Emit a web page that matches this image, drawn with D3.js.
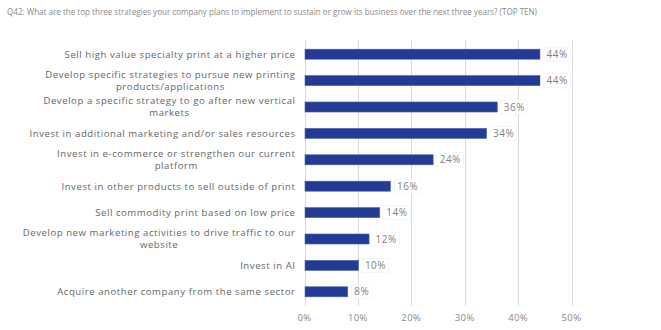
<!DOCTYPE html>
<html><head><meta charset="utf-8">
<script src="https://cdn.jsdelivr.net/npm/d3@7"></script>
<style>
html,body{margin:0;padding:0;background:#fff;}
svg{display:block;}
text{font-family:"Open Sans","DejaVu Sans",sans-serif;}
</style></head>
<body>
<svg id="chart" width="661" height="330"></svg>
<script>
const title = "Q42: What are the top three strategies your company plans to implement to sustain or grow its business over the next three years? (TOP TEN)";
const categories = [
  "Sell high value specialty print at a higher price",
  "Develop specific strategies to pursue new printing\nproducts/applications",
  "Develop a specific strategy to go after new vertical\nmarkets",
  "Invest in additional marketing and/or sales resources",
  "Invest in e-commerce or strengthen our current\nplatform",
  "Invest in other products to sell outside of print",
  "Sell commodity print based on low price",
  "Develop new marketing activities to drive traffic to our\nwebsite",
  "Invest in AI",
  "Acquire another company from the same sector"
];
const values = [44, 44, 36, 34, 24, 16, 14, 12, 10, 8];
const tickValues = [0, 10, 20, 30, 40, 50];

const svg = d3.select("#chart");
const W = 661, H = 330;
const margin = {left: 304.5, right: 89.5, top: 41, bottom: 25};

const x = d3.scaleLinear().domain([0, 50]).range([margin.left, W - margin.right]);
const y = d3.scaleBand().domain(d3.range(categories.length)).range([margin.top, H - margin.bottom]).paddingInner(0.62).paddingOuter(0.31);

// title
svg.append("text").attr("x", 7).attr("y", 14.5)
  .attr("font-size", 8.6).attr("fill", "#8a8a8a")
  .attr("textLength", 530).attr("lengthAdjust", "spacingAndGlyphs")
  .text(title);

// gridlines
svg.append("g").selectAll("line").data(tickValues).join("line")
  .attr("x1", d => Math.round(x(d)) + 0.5).attr("x2", d => Math.round(x(d)) + 0.5)
  .attr("y1", margin.top - 1).attr("y2", H - margin.bottom + 1)
  .attr("stroke", "#d9d9d9").attr("stroke-width", 1);

// tick labels
svg.append("g").selectAll("text").data(tickValues).join("text")
  .attr("x", d => x(d)).attr("y", 320.5)
  .attr("text-anchor", "middle").attr("font-size", 9.5).attr("fill", "#8a8a8a")
  .attr("letter-spacing", 0.4)
  .text(d => d + "%");

// bars
svg.append("g").selectAll("rect").data(values).join("rect")
  .attr("x", x(0) + 0.5).attr("y", (d, i) => y(i))
  .attr("width", d => x(d) - x(0)).attr("height", y.bandwidth())
  .attr("fill", "#243b95").attr("stroke", "#4a62b0").attr("stroke-width", 0.6);

// value labels with white boxes
const vl = svg.append("g").selectAll("g").data(values).join("g")
  .attr("transform", (d, i) => `translate(${x(d) + 7},${y(i) + y.bandwidth() / 2})`);
vl.append("rect").attr("class", "bg");
vl.append("text").attr("font-size", 10).attr("fill", "#7f7f7f")
  .attr("letter-spacing", 0.5)
  .attr("dy", "0.35em").text(d => d + "%");
vl.each(function() {
  const g = d3.select(this);
  const w = g.select("text").node().getComputedTextLength();
  g.select("rect.bg").attr("x", -2.5).attr("y", -7).attr("width", w + 5).attr("height", 14)
    .attr("fill", "#fff").attr("stroke", "#f4f4f4").attr("stroke-width", 0.8);
});

// category labels (centered block, right-aligned)
const labelRight = 295.5;
const lineH = 12;
const cl = svg.append("g").selectAll("text").data(categories).join("text")
  .attr("font-size", 9.6).attr("fill", "#666666").attr("text-anchor", "middle")
  .attr("letter-spacing", 0.55);
cl.each(function(d, i) {
  const t = d3.select(this);
  const lines = d.split("\n");
  const cy = y(i) + y.bandwidth() / 2;
  lines.forEach((ln, k) => {
    t.append("tspan").attr("y", cy + (k - (lines.length - 1) / 2) * lineH).attr("dy", "0.35em").text(ln);
  });
  let maxw = 0;
  t.selectAll("tspan").each(function() { maxw = Math.max(maxw, this.getComputedTextLength()); });
  t.selectAll("tspan").attr("x", labelRight - maxw / 2);
});
</script>
</body></html>
